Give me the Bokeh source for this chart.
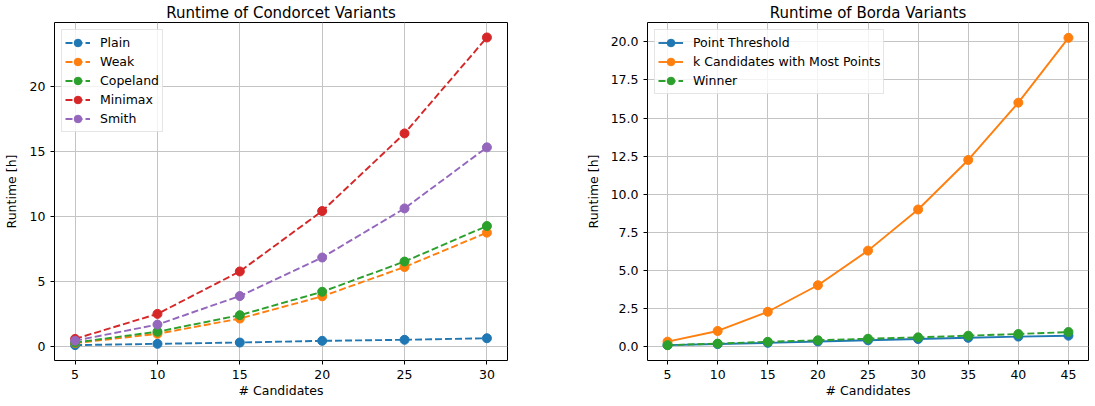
from bokeh.plotting import figure
from bokeh.layouts import row
from bokeh.models import Range1d, FixedTicker, PrintfTickFormatter, Legend, LegendItem, Title
from bokeh.embed import file_html
from bokeh.resources import INLINE

# ---- data: Condorcet variants ----
cond_x = [5, 10, 15, 20, 25, 30]
plain = [0.10, 0.20, 0.30, 0.43, 0.51, 0.63]
weak = [0.25, 0.97, 2.14, 3.85, 6.10, 8.74]
copeland = [0.30, 1.13, 2.40, 4.20, 6.52, 9.25]
minimax = [0.58, 2.50, 5.76, 10.40, 16.36, 23.73]
smith = [0.44, 1.68, 3.87, 6.83, 10.60, 15.29]

# ---- data: Borda variants ----
borda_x = [5, 10, 15, 20, 25, 30, 35, 40, 45]
point_threshold = [0.10, 0.17, 0.25, 0.34, 0.42, 0.50, 0.58, 0.66, 0.72]
k_candidates = [0.33, 1.03, 2.29, 4.03, 6.30, 9.00, 12.25, 16.01, 20.26]
winner = [0.10, 0.20, 0.32, 0.42, 0.52, 0.61, 0.72, 0.83, 0.96]

cond_names = ["Plain", "Weak", "Copeland", "Minimax", "Smith"]
borda_names = ["Point Threshold", "k Candidates with Most Points", "Winner"]
cond_xticks = [5, 10, 15, 20, 25, 30]
cond_yticks = [0, 5, 10, 15, 20]
borda_xticks = [5, 10, 15, 20, 25, 30, 35, 40, 45]
borda_yticks = [0, 2.5, 5, 7.5, 10, 12.5, 15, 17.5, 20]

C = ["#1f77b4", "#ff7f0e", "#2ca02c", "#d62728", "#9467bd"]
FONT = "DejaVu Sans"
FS = "12.5px"
FIG_H = 400


def style(p, xticks, yticks, title, xlabel):
    p.outline_line_color = "black"
    p.outline_line_width = 1
    p.outline_line_alpha = 1
    for ax in (p.xaxis[0], p.yaxis[0]):
        ax.axis_line_color = None
        ax.major_tick_out = 4
        ax.major_tick_in = 0
        ax.minor_tick_out = 0
        ax.minor_tick_in = 0
        ax.major_tick_line_color = "black"
        ax.major_label_text_font = FONT
        ax.major_label_text_font_size = FS
        ax.major_label_text_color = "black"
        ax.axis_label_text_font = FONT
        ax.axis_label_text_font_size = FS
        ax.axis_label_text_font_style = "normal"
        ax.axis_label_text_color = "black"
    p.xaxis[0].major_label_standoff = 5
    p.yaxis[0].major_label_standoff = 5
    p.yaxis[0].axis_label_standoff = 8
    p.xaxis[0].ticker = FixedTicker(ticks=xticks)
    p.yaxis[0].ticker = FixedTicker(ticks=yticks)
    p.xgrid[0].ticker = FixedTicker(ticks=xticks)
    p.ygrid[0].ticker = FixedTicker(ticks=yticks)
    for g in (p.xgrid[0], p.ygrid[0]):
        g.grid_line_color = "#c4c4c4"
        g.grid_line_width = 1
    p.add_layout(Title(text=title, align="center", text_font=FONT, text_font_size="15px",
                       text_font_style="normal", text_color="black", standoff=2, offset=0),
                 "above")
    p.add_layout(Title(text=xlabel, align="center", text_font=FONT, text_font_size=FS,
                       text_font_style="normal", text_color="black", standoff=2, offset=0,
                       vertical_align="top"),
                 "below")


def make_legend(p, items):
    leg = Legend(items=items, location="top_left")
    leg.margin = 7
    leg.padding = 3
    leg.spacing = 0
    leg.label_height = 19
    leg.glyph_height = 19
    leg.glyph_width = 25
    leg.label_standoff = 10
    leg.label_text_font = FONT
    leg.label_text_font_size = FS
    leg.label_text_color = "black"
    leg.border_line_color = "#cccccc"
    leg.border_line_width = 1
    leg.background_fill_alpha = 0.8
    p.add_layout(leg, "center")


# ---- left figure ----
p1 = figure(width=562, height=FIG_H, output_backend="svg", toolbar_location=None,
            x_range=Range1d(3.75, 31.25), y_range=Range1d(-1.08, 24.88),
            y_axis_label="Runtime [h]",
            min_border_left=45, min_border_right=55, min_border_top=0, min_border_bottom=38)
style(p1, cond_xticks, cond_yticks, "Runtime of Condorcet Variants", "# Candidates")
items = []
for name, ys, col in zip(cond_names, [plain, weak, copeland, minimax, smith], C):
    r1 = p1.line(cond_x, ys, line_color=col, line_width=1.9, line_dash="7 3")
    r2 = p1.scatter(cond_x, ys, size=9, fill_color=col, line_color=col, marker="circle")
    items.append(LegendItem(label=name, renderers=[r1, r2]))
make_legend(p1, items)

# ---- right figure ----
p2 = figure(width=528, height=FIG_H, output_backend="svg", toolbar_location=None,
            x_range=Range1d(3, 47), y_range=Range1d(-0.908, 21.268),
            y_axis_label="Runtime [h]",
            min_border_left=85, min_border_right=2, min_border_top=0, min_border_bottom=38)
style(p2, borda_xticks, borda_yticks, "Runtime of Borda Variants", "# Candidates")
p2.yaxis[0].formatter = PrintfTickFormatter(format="%.1f")
p2.yaxis[0].axis_label_standoff = 7
items2 = []
for name, ys, col, dash in zip(borda_names, [point_threshold, k_candidates, winner],
                               C[:3], ["solid", "solid", "7 3"]):
    r1 = p2.line(borda_x, ys, line_color=col, line_width=1.9, line_dash=dash)
    r2 = p2.scatter(borda_x, ys, size=9, fill_color=col, line_color=col, marker="circle")
    items2.append(LegendItem(label=name, renderers=[r1, r2]))
make_legend(p2, items2)

layout = row(p1, p2)
open("out.html", "w").write(file_html(layout, INLINE))
